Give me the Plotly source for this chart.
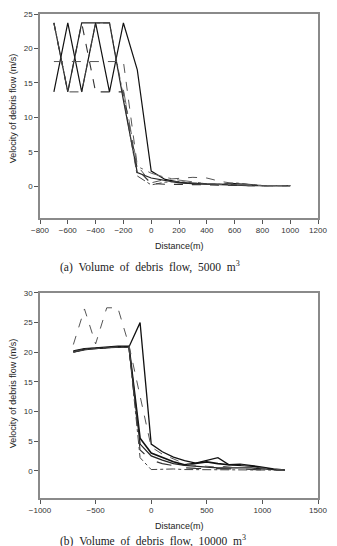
import plotly.graph_objects as go

# ---------------- data: panel (a) 5000 m3 ----------------
xa = [-700, -600, -500, -400, -300, -200, -100, 0, 100, 200, 300, 400, 500, 600, 700, 800, 900, 1000]
a_s1 = [13.7, 23.7, 13.7, 23.7, 13.7, 23.7, 16.9, 2.2, 1.0, 0.6, 0.4, 0.3, 0.3, 0.4, 0.2, 0.1, 0.1, 0.1]
a_s2 = [23.7, 13.7, 23.7, 23.7, 23.7, 12.5, 2.0, 1.2, 0.8, 0.5, 0.4, 0.3, 0.2, 0.2, 0.1, 0.1, 0.1, 0.1]
a_s3 = [23.7, 13.7, 23.7, 13.7, 13.7, 13.7, 2.5, 0.4, 0.3, 0.25, 0.2, 0.2, 0.15, 0.1, 0.1, 0.1, 0.1, 0.1]
a_s4 = [23.7, 13.7, 13.7, 23.7, 23.7, 13.0, 1.5, 0.2, 0.6, 0.7, 0.5, 0.4, 0.3, 0.5, 0.3, 0.1, 0.1, 0.1]
a_s5 = [18.1, 18.1, 18.1, 18.1, 18.1, 18.1, 3.0, 0.5, 1.0, 1.1, 1.3, 1.2, 0.7, 0.4, 0.2, 0.1, 0.1, 0.1]
a_s6 = [None, None, None, None, None, 14.0, 2.9, 1.9, 1.3, 0.9, 0.6, 0.4, 0.3, 0.2, 0.2, 0.1, 0.1, 0.1]

# ---------------- data: panel (b) 10000 m3 ----------------
xb = [-700, -600, -500, -400, -300, -200, -100, 0, 100, 200, 300, 400, 500, 600, 700, 800, 900, 1000, 1100, 1200]
b_s1 = [20.0, 20.5, 20.6, 20.8, 20.9, 20.9, 25.0, 4.5, 3.2, 2.3, 1.7, 1.3, 1.8, 2.2, 1.0, 0.9, 0.8, 0.5, 0.2, 0.1]
b_s2 = [20.2, 20.6, 20.7, 20.9, 21.0, 21.0, 5.5, 3.0, 2.2, 1.5, 1.0, 1.3, 1.5, 1.2, 1.0, 1.1, 0.9, 0.6, 0.3, 0.1]
b_s3 = [20.1, 20.5, 20.7, 20.8, 20.9, 20.9, 4.5, 2.5, 1.8, 1.2, 0.9, 0.7, 0.6, 0.5, 0.5, 0.6, 0.5, 0.3, 0.2, 0.1]
b_s4 = [20.0, 20.4, 20.6, 20.8, 20.8, 20.8, 3.5, 1.8, 1.2, 0.8, 0.5, 0.4, 0.4, 0.3, 0.3, 0.3, 0.2, 0.2, 0.1, 0.1]
b_s5 = [20.1, 20.5, 20.6, 20.8, 20.9, 20.8, 2.2, 0.2, 0.3, 0.3, 0.2, 0.2, 0.2, 0.2, 0.2, 0.1, 0.1, 0.1, 0.1, 0.1]
b_s6 = [21.3, 27.3, 21.4, 27.5, 27.5, 21.2, 12.6, 4.0, 2.8, 2.0, 1.2, 0.9, 0.7, 0.6, 0.8, 1.0, 0.7, 0.4, 0.2, 0.1]

xticks_a = [-800, -600, -400, -200, 0, 200, 400, 600, 800, 1000, 1200]
yticks_a = [0, 5, 10, 15, 20, 25]
xticks_b = [-1000, -500, 0, 500, 1000, 1500]
yticks_b = [0, 5, 10, 15, 20, 25, 30]

fig = go.Figure()

styles_a = [
    (a_s1, "#111111", "solid", 1.2),
    (a_s2, "#222222", "solid", 1.2),
    (a_s3, "#333333", "dash", 1.1),
    (a_s4, "#444444", "dashdot", 1.0),
    (a_s5, "#555555", "dash", 1.0),
    (a_s6, "#666666", "longdashdot", 1.0),
]
for ys, c, d, w in styles_a:
    fig.add_trace(go.Scatter(x=xa, y=ys, mode="lines", xaxis="x", yaxis="y",
                             line=dict(color=c, dash=d, width=w), showlegend=False))

styles_b = [
    (b_s1, "#111111", "solid", 1.3),
    (b_s2, "#111111", "solid", 1.6),
    (b_s3, "#222222", "solid", 1.3),
    (b_s4, "#333333", "longdash", 1.1),
    (b_s5, "#444444", "dashdot", 1.0),
    (b_s6, "#555555", "dash", 1.0),
]
for ys, c, d, w in styles_b:
    fig.add_trace(go.Scatter(x=xb, y=ys, mode="lines", xaxis="x2", yaxis="y2",
                             line=dict(color=c, dash=d, width=w), showlegend=False))

tickfont = dict(family="Liberation Sans, Arial, sans-serif", size=8, color="#333333")
axis_common = dict(showline=True, mirror=True, linecolor="#8a8a8a", linewidth=1.5,
                   showgrid=False, zeroline=False, ticks="outside", ticklen=4,
                   tickcolor="#555555", tickwidth=1, tickfont=tickfont)

fig.update_layout(
    width=337, height=546,
    margin=dict(l=40, r=10, t=14, b=48),
    paper_bgcolor="white", plot_bgcolor="white",
    xaxis=dict(domain=[0, 1], range=[-800, 1200], tickvals=xticks_a, anchor="y", **axis_common),
    yaxis=dict(domain=[0.5785, 1], range=[-4.6, 25], tickvals=yticks_a, anchor="x", **axis_common),
    xaxis2=dict(domain=[0, 1], range=[-1000, 1500], tickvals=xticks_b, anchor="y2", **axis_common),
    yaxis2=dict(domain=[0, 0.4236], range=[-4.6, 30], tickvals=yticks_b, anchor="x2", **axis_common),
)

sans = dict(family="Liberation Sans, Arial, sans-serif", size=9, color="#222222")
serif = dict(family="Liberation Serif, Times New Roman, serif", size=11.5, color="#222222")
sp = " \u00a0"
annots = [
    dict(text="Distance(m)", x=0.5, y=0.5207, font=sans),
    dict(text="Distance(m)", x=0.5, y=-0.0579, font=sans),
    dict(text="Velocity of debris flow (m/s)", x=-0.0958, y=0.806, font=sans, textangle=-90),
    dict(text="Velocity of debris flow (m/s)", x=-0.0958, y=0.217, font=sans, textangle=-90),
    dict(text="(a)" + sp + "Volume" + sp + "of" + sp + "debris" + sp + "flow," + sp + "5000" + sp + "m<sup>3</sup>",
         x=0.395, y=0.479, font=serif),
    dict(text="(b)" + sp + "Volume" + sp + "of" + sp + "debris" + sp + "flow," + sp + "10000" + sp + "m<sup>3</sup>",
         x=0.405, y=-0.088, font=serif),
]
for a in annots:
    fig.add_annotation(xref="paper", yref="paper", showarrow=False, xanchor="center", yanchor="middle", **a)

fig.write_html("out.html")
